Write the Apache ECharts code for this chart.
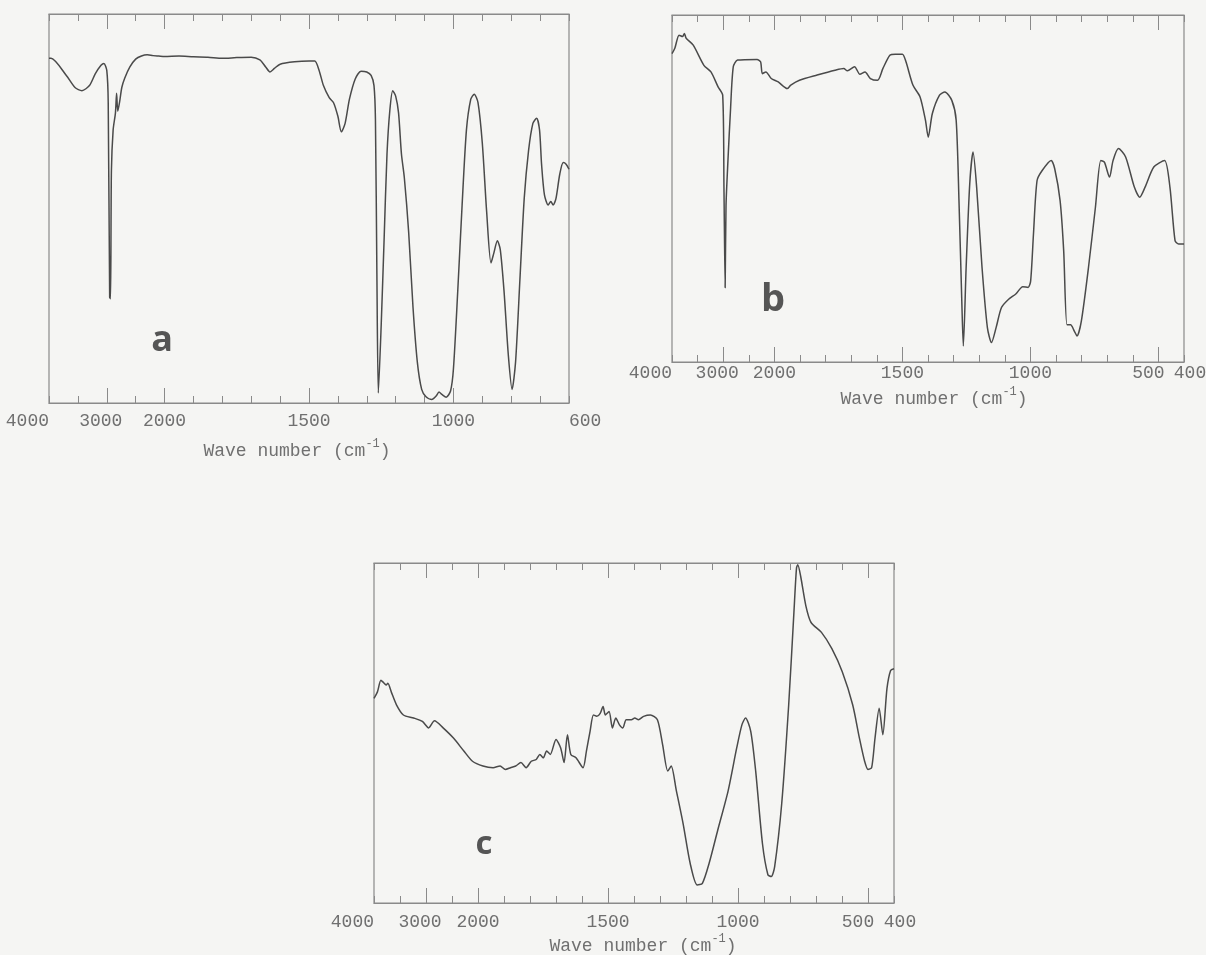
<!DOCTYPE html>
<html>
<head>
<meta charset="utf-8">
<script src="https://cdn.jsdelivr.net/npm/echarts@6/dist/echarts.min.js"></script>
<style>
  html, body { margin: 0; padding: 0; background: #f5f5f3; }
  #chart { width: 1206px; height: 955px; }
</style>
</head>
<body>
<div id="chart"></div>
<script>
// spectrum a
const wnA = [4000, 3965, 3700, 3550, 3430, 3300, 3200, 3100, 3050, 3000, 2975, 2950, 2935, 2920, 2890, 2850, 2830, 2810, 2780, 2740, 2690, 2600, 2500, 2400, 2300, 2200, 2100, 2000, 1950, 1900, 1850, 1800, 1750, 1700, 1670, 1650, 1635, 1620, 1600, 1550, 1500, 1480, 1465, 1450, 1430, 1415, 1400, 1388, 1375, 1360, 1340, 1320, 1300, 1285, 1275, 1270, 1265, 1260, 1250, 1240, 1230, 1220, 1210, 1200, 1190, 1180, 1170, 1155, 1140, 1125, 1110, 1095, 1075, 1060, 1050, 1040, 1025, 1010, 1000, 985, 970, 955, 940, 928, 915, 900, 885, 870, 860, 848, 838, 825, 810, 797, 785, 770, 755, 740, 725, 712, 702, 695, 685, 672, 663, 655, 645, 632, 620, 610, 600];
const tA = [88.6, 88.6, 84.2, 81.1, 80.3, 81.6, 84.6, 86.8, 87.3, 85.5, 77.2, 27.2, 26.8, 59.6, 70.2, 74.6, 79.6, 75.0, 77.2, 81.1, 83.5, 86.4, 88.4, 89.2, 89.5, 89.3, 89.2, 89.1, 89.2, 89.0, 88.9, 88.6, 88.8, 88.9, 88.2, 86.4, 85.1, 86.0, 87.1, 87.7, 87.9, 87.9, 85.5, 81.6, 78.5, 77.2, 73.7, 69.7, 71.9, 78.1, 83.3, 85.3, 85.1, 84.2, 81.6, 72.8, 33.3, 2.6, 20.2, 42.1, 64.0, 75.4, 80.3, 78.9, 74.6, 64.0, 57.9, 43.9, 24.6, 10.5, 3.5, 1.6, 0.9, 1.8, 2.8, 2.2, 1.5, 3.1, 8.8, 28.9, 50.9, 70.2, 78.1, 79.4, 77.2, 66.7, 49.1, 36.0, 38.6, 41.7, 39.5, 28.9, 12.3, 3.5, 10.5, 31.6, 52.6, 64.9, 71.9, 73.2, 70.2, 61.4, 53.5, 50.9, 51.8, 50.9, 52.6, 58.8, 61.8, 61.4, 60.1];

// spectrum b
const wnB = [4000, 3945, 3862, 3792, 3758, 3723, 3585, 3377, 3239, 3100, 3010, 2985, 2962, 2945, 2907, 2858, 2803, 2720, 2339, 2270, 2235, 2166, 2062, 1985, 1950, 1936, 1902, 1833, 1763, 1729, 1715, 1687, 1666, 1646, 1625, 1597, 1576, 1549, 1528, 1500, 1486, 1459, 1431, 1410, 1399, 1383, 1355, 1334, 1307, 1290, 1279, 1268, 1262, 1251, 1237, 1224, 1210, 1189, 1168, 1152, 1134, 1113, 1085, 1057, 1030, 1009, 999, 988, 974, 954, 919, 905, 884, 870, 857, 843, 829, 818, 801, 773, 746, 725, 711, 691, 677, 656, 628, 594, 573, 552, 518, 476, 455, 435, 421, 400];
const tB = [88.9, 90.4, 94.2, 93.8, 94.7, 93.3, 91.3, 85.5, 83.6, 79.3, 76.9, 50.0, 21.4, 45.0, 58.1, 72.5, 85.1, 87.0, 87.2, 86.5, 83.1, 83.6, 81.7, 80.7, 78.8, 79.8, 81.2, 82.7, 84.1, 84.6, 83.9, 85.1, 82.9, 83.6, 81.7, 81.2, 84.6, 88.4, 88.7, 88.7, 86.5, 79.8, 76.4, 69.7, 64.8, 71.6, 76.9, 77.8, 75.4, 69.7, 46.5, 17.6, 4.6, 27.3, 51.3, 60.5, 50.4, 27.3, 9.9, 5.6, 9.9, 15.7, 18.1, 19.6, 21.7, 21.5, 23.4, 36.9, 52.3, 55.2, 58.1, 55.7, 46.5, 32.1, 10.7, 10.7, 9.0, 7.5, 11.8, 27.3, 44.6, 58.1, 57.6, 53.3, 58.1, 61.5, 59.1, 50.4, 47.5, 50.4, 56.2, 58.1, 50.4, 35.0, 34.0, 34.0];

// spectrum c
const wnC = [4000, 3934, 3867, 3821, 3767, 3734, 3668, 3568, 3435, 3236, 3070, 2950, 2837, 2671, 2472, 2272, 2106, 1981, 1942, 1915, 1895, 1875, 1855, 1835, 1815, 1795, 1776, 1762, 1749, 1736, 1722, 1700, 1682, 1669, 1656, 1643, 1623, 1596, 1583, 1569, 1556, 1543, 1530, 1519, 1510, 1496, 1483, 1470, 1456, 1443, 1430, 1410, 1397, 1383, 1363, 1337, 1310, 1290, 1270, 1257, 1237, 1211, 1184, 1157, 1137, 1111, 1078, 1038, 1005, 985, 971, 951, 932, 906, 885, 872, 859, 832, 805, 785, 775, 770, 759, 739, 719, 679, 639, 599, 559, 533, 513, 500, 486, 473, 457, 443, 427, 413, 400];
const tC = [60.2, 62.1, 65.5, 64.9, 64.1, 64.6, 62.1, 58.3, 55.3, 54.4, 53.4, 51.5, 53.6, 51.5, 48.5, 44.7, 41.7, 40.3, 39.8, 40.3, 39.3, 39.8, 40.3, 41.3, 39.8, 41.7, 42.2, 43.7, 42.7, 44.7, 43.7, 48.1, 45.6, 41.3, 49.5, 43.7, 42.7, 39.8, 44.7, 50.5, 55.3, 54.9, 55.8, 57.8, 55.3, 56.3, 51.5, 54.4, 52.4, 51.5, 53.9, 53.9, 54.4, 53.9, 54.9, 55.3, 53.9, 46.6, 38.8, 40.3, 33.0, 23.3, 11.7, 5.3, 5.8, 11.7, 21.4, 33.0, 45.6, 52.4, 54.4, 50.5, 38.8, 17.5, 8.3, 7.8, 10.7, 29.1, 58.3, 85.4, 98.5, 99.5, 96.1, 87.4, 82.5, 79.6, 74.8, 68.0, 58.3, 48.5, 41.7, 39.3, 39.8, 48.5, 57.3, 49.5, 63.1, 68.4, 68.9];

// tick labels (wave numbers) and the longer ticks
const labelsA = [4000, 3000, 2000, 1500, 1000, 600];
const labelsBC = [4000, 3000, 2000, 1500, 1000, 500, 400];
const majorsA = [3000, 2000, 1500, 1000];
const majorsBC = [3000, 2000, 1500, 1000, 500];

// the instrument scale changes at 2000 cm-1: 500 per tick above, 100 per tick below
function toUnit(wn) {
  return wn >= 2000 ? (4000 - wn) / 500 : 4 + (2000 - wn) / 100;
}
function fromUnit(u) {
  return u <= 4 ? 4000 - 500 * u : 2000 - 100 * (u - 4);
}

const ink = '#4a4a4a';
const axisGrey = '#8a8a8a';
const textGrey = '#707070';
const mono = '"Liberation Mono", "DejaVu Sans Mono", monospace';

const panels = [
  { wn: wnA, t: tA, labels: labelsA, majors: majorsA, max: 18,
    grid: { left: 49, top: 14, width: 520, height: 389 },
    labelMargin: 9, nameGap: 35, namePad: [0, 24, 0, 0], maxAlign: 'left',
    letter: 'a', lx: 162, ly: 341, lsize: 36 },
  { wn: wnB, t: tB, labels: labelsBC, majors: majorsBC, max: 20,
    grid: { left: 672, top: 15, width: 512, height: 347 },
    labelMargin: 2, nameGap: 24, namePad: [0, 0, 0, 12], maxAlign: 'center',
    letter: 'b', lx: 773, ly: 300, lsize: 38 },
  { wn: wnC, t: tC, labels: labelsBC, majors: majorsBC, max: 20,
    grid: { left: 374, top: 563, width: 520, height: 340 },
    labelMargin: 10, nameGap: 30, namePad: [0, 0, 0, 18], maxAlign: 'center',
    letter: 'c', lx: 484, ly: 845, lsize: 33 }
];

const labelRich = {
  l3: { fontFamily: mono, fontSize: 18, color: textGrey, padding: [0, 12, 0, 0] },
  l5: { fontFamily: mono, fontSize: 18, color: textGrey, padding: [0, 20, 0, 0] },
  l4: { fontFamily: mono, fontSize: 18, color: textGrey, padding: [0, 0, 0, 12] }
};

function fmtLabel(v) {
  const w = Math.round(fromUnit(v));
  if (w === 3000) return '{l3|3000}';
  if (w === 500) return '{l5|500}';
  if (w === 400) return '{l4|400}';
  return String(w);
}

const grids = [], xAxes = [], yAxes = [], series = [], graphics = [];

panels.forEach((p, i) => {
  grids.push(Object.assign({
    show: true, borderColor: axisGrey, borderWidth: 1.2, backgroundColor: 'transparent',
    containLabel: false, outerBoundsMode: 'none'
  }, p.grid));
  const base = { type: 'value', gridIndex: i, min: 0, max: p.max, interval: 1, splitLine: { show: false } };
  const majorUnits = p.majors.map(toUnit);
  // bottom axis with labels and short ticks
  xAxes.push(Object.assign({}, base, {
    position: 'bottom',
    axisLine: { show: true, lineStyle: { color: axisGrey, width: 1.2 } },
    axisTick: { show: true, inside: true, length: 7, lineStyle: { color: axisGrey } },
    axisLabel: {
      customValues: p.labels.map(toUnit), formatter: fmtLabel, margin: p.labelMargin,
      fontFamily: mono, fontSize: 18, color: textGrey,
      alignMinLabel: 'right', alignMaxLabel: p.maxAlign, rich: labelRich
    },
    name: '{t|Wave number (cm}{s|-1}{t|)}',
    nameLocation: 'middle', nameGap: p.nameGap,
    nameTextStyle: {
      padding: p.namePad,
      rich: {
        t: { fontFamily: mono, fontSize: 18, color: textGrey, lineHeight: 22, verticalAlign: 'bottom' },
        s: { fontFamily: mono, fontSize: 12, color: textGrey, lineHeight: 12, verticalAlign: 'top' }
      }
    }
  }));
  // bottom long ticks
  xAxes.push(Object.assign({}, base, {
    position: 'bottom', axisLine: { show: false }, axisLabel: { show: false },
    axisTick: { show: true, inside: true, length: 15, customValues: majorUnits, lineStyle: { color: axisGrey } }
  }));
  // top short ticks
  xAxes.push(Object.assign({}, base, {
    position: 'top', axisLine: { show: true, lineStyle: { color: axisGrey, width: 1.2 } }, axisLabel: { show: false },
    axisTick: { show: true, inside: true, length: 7, lineStyle: { color: axisGrey } }
  }));
  // top long ticks
  xAxes.push(Object.assign({}, base, {
    position: 'top', axisLine: { show: false }, axisLabel: { show: false },
    axisTick: { show: true, inside: true, length: 15, customValues: majorUnits, lineStyle: { color: axisGrey } }
  }));
  yAxes.push({ type: 'value', gridIndex: i, min: 0, max: 100, show: false });

  series.push({
    type: 'line', xAxisIndex: i * 4, yAxisIndex: i,
    data: p.wn.map((w, k) => [toUnit(w), p.t[k]]),
    showSymbol: false, smooth: 0.25, clip: false,
    lineStyle: { color: ink, width: 1.5 }, silent: true
  });

  graphics.push({
    type: 'text', x: p.lx, y: p.ly,
    style: { text: p.letter, font: 'bold ' + p.lsize + 'px "Open Sans", "Noto Sans", sans-serif', fill: '#555555', align: 'center', verticalAlign: 'middle' }
  });
});

const chart = echarts.init(document.getElementById('chart'), null, { renderer: 'canvas' });
chart.setOption({
  backgroundColor: '#f5f5f3',
  animation: false,
  grid: grids,
  xAxis: xAxes,
  yAxis: yAxes,
  series: series,
  graphic: graphics
});
</script>
</body>
</html>
